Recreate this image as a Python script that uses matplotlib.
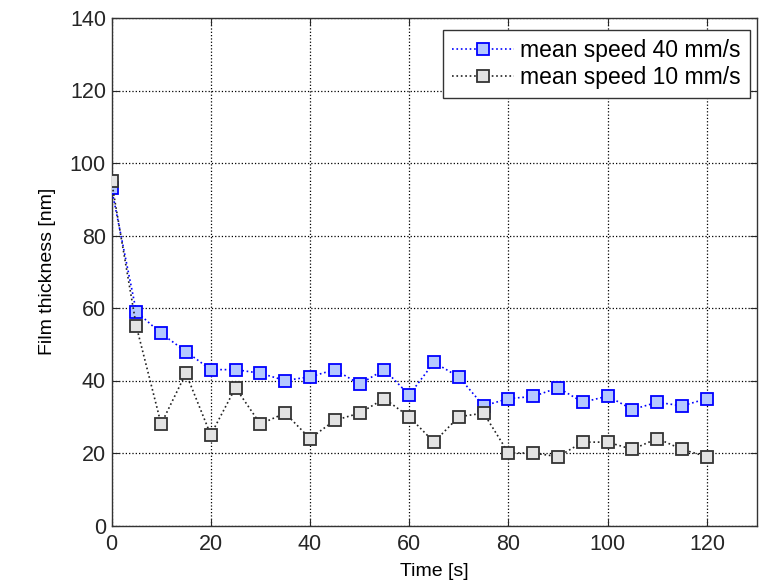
import matplotlib
matplotlib.use("Agg")
import matplotlib.pyplot as plt

plt.rcParams['font.family'] = ['Liberation Sans', 'DejaVu Sans']

time_s = [0, 5, 10, 15, 20, 25, 30, 35, 40, 45, 50, 55, 60, 65, 70, 75, 80, 85, 90, 95, 100, 105, 110, 115, 120]
speed40 = [93, 59, 53, 48, 43, 43, 42, 40, 41, 43, 39, 43, 36, 45, 41, 33, 35, 35.6, 38, 34, 35.7, 32, 34, 33, 35]
speed10 = [95, 55, 28, 42, 25, 38, 28, 31, 24, 29, 31, 35, 30, 23, 30, 31, 20, 20, 19, 23, 23, 21, 24, 21, 19]

W, H = 767, 585
fig = plt.figure(figsize=(W / 100, H / 100), dpi=100)
L, R, T, B = 111.5, 756.5, 18, 525.5
ax = fig.add_axes([L / W, (H - B) / H, (R - L) / W, (B - T) / H])

ax.plot(time_s, speed40, linestyle=':', color='#0000ff', linewidth=1.2,
        marker='s', markersize=9.3, markerfacecolor='#b4c8ff', markeredgecolor='#0000ff',
        markeredgewidth=1.3, label='mean speed 40 mm/s', zorder=3)
ax.plot(time_s, speed10, linestyle=':', color='#222222', linewidth=1.2,
        marker='s', markersize=9.3, markerfacecolor='#e3e3e3', markeredgecolor='#333333',
        markeredgewidth=1.3, label='mean speed 10 mm/s', zorder=3)

ax.set_xlim(0, 130)
ax.set_ylim(0, 140)
ax.set_xticks(range(0, 121, 20))
ax.set_yticks(range(0, 141, 20))
ax.grid(True, linestyle=':', color='black', linewidth=0.9)
ax.tick_params(direction='in', top=True, right=True, length=5, labelsize=15.5,
               colors='#262626')
ax.tick_params(axis='x', pad=6)
ax.tick_params(axis='y', pad=4)
for s in ax.spines.values():
    s.set_color('#333333')
    s.set_linewidth(1)

ax.set_xlabel('Time [s]', fontsize=14, labelpad=6)
ax.set_ylabel('Film thickness [nm]', fontsize=14, labelpad=10)

# legend box upper-right corner at pixel (749.5, 30)
ax_x = (749.5 - L) / (R - L)
ax_y = (B - 30) / (B - T)
leg = ax.legend(loc='upper right', bbox_to_anchor=(ax_x, ax_y), fontsize=16.5,
                fancybox=False, framealpha=1, edgecolor='#333333', borderaxespad=0,
                handlelength=2.7, handletextpad=0.26, borderpad=0.4, labelspacing=0.15)
leg.get_frame().set_linewidth(1)

fig.savefig('out.png', dpi=100)
